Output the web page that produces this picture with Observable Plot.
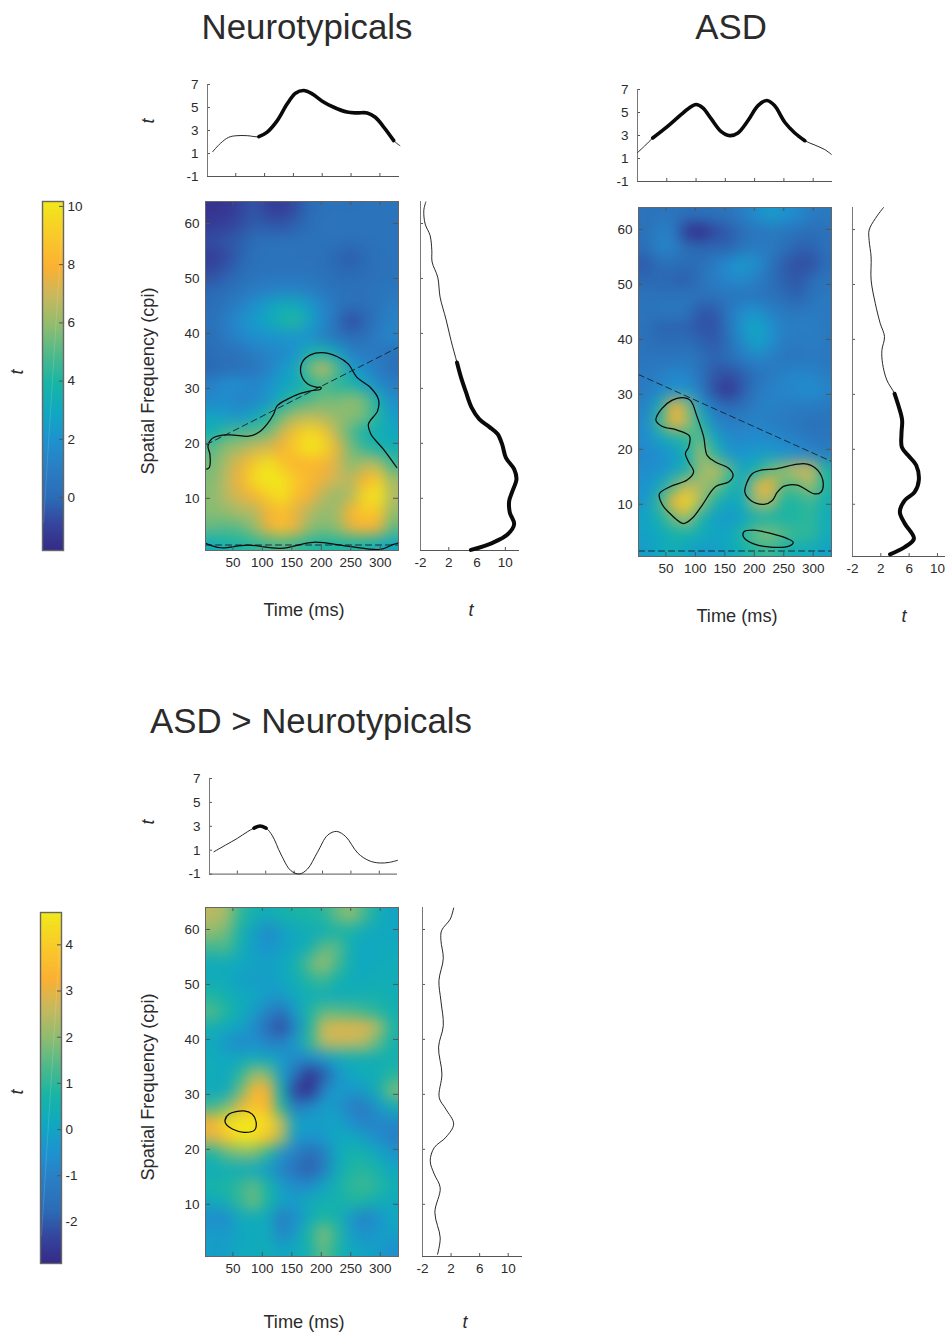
<!DOCTYPE html>
<html><head><meta charset="utf-8">
<script src="https://cdn.jsdelivr.net/npm/d3@7"></script>
<script src="https://cdn.jsdelivr.net/npm/@observablehq/plot@0.6"></script>
<style>
body{margin:0;background:#fff}
#root{position:relative;width:945px;height:1332px;overflow:hidden;font-family:"Liberation Sans",Arial,sans-serif;color:#2b2b2b}
#root svg{position:absolute;overflow:visible;background:transparent;max-width:none}
.lab{position:absolute;white-space:nowrap;transform:translate(-50%,-50%)}
</style></head><body><div id="root"></div>
<script>
// Colormap stops (parula as printed)
const parula=["#352a87","#35479f","#2b6cb6","#2a7fc4","#1e92d0","#10a9c0","#18b5a5","#4eb98b","#90bc6f","#c9b85d","#fbb033","#f9c92a","#f1e91b"];
const parulaPos=[0,.08,.15,.24,.315,.40,.48,.56,.645,.73,.81,.9,1];
const scaleA=[-1.82,10.17], scaleB=[-2.9,4.7];
const tickA=[0,2,4,6,8,10], tickB=[-2,-1,0,1,2,3,4];
const timeTicks=[50,100,150,200,250,300], freqTicks=[10,20,30,40,50,60];
const topT=[-1,1,3,5,7], sideT=[-2,2,6,10];

// t maps, 14 columns (time) x 22 rows (top row = highest frequency)
const ntGrid=[
[-1.5,-1.4,-1,-.5,-1.1,-1.2,-.7,0,.3,.4,.3,.4,.4,.4],
[-1.2,-1,-.7,-.3,-.4,-.5,-.2,.2,.4,.5,.5,.5,.4,.4],
[-.7,-.5,-.3,.2,.4,.4,.4,.4,.4,.3,.2,.3,.4,.5],
[-1.2,-.8,-.2,.3,.4,.4,.4,.3,.2,-.1,-.4,0,.3,.4],
[-.7,-.3,.1,.4,.5,.5,.5,.5,.4,0,0,.1,.3,.4],
[-.1,.2,.5,.9,1.1,1.2,1.2,1,.6,.4,.4,.4,.5,.6],
[.2,.6,1.2,1.8,2.6,3.2,3.2,2.4,1.4,.6,.2,.2,.5,1],
[.3,1,1.8,2.4,3,3.8,4.2,2.8,1.5,.3,-.8,-.2,.7,1.2],
[.2,.9,1.4,1.9,2,2.2,2.2,1.9,1.2,.4,.1,.3,1,1.4],
[.1,.3,.4,1,1.3,1.5,2,3.6,3.8,2.8,1.2,.8,.8,.4],
[-.1,.2,.3,.5,1.2,2.2,3,5.5,7,5,2.5,1.7,.9,.2],
[1.2,1.8,1.8,1.4,2,2.6,3.2,4,4.8,4.2,4,2.8,1.6,1],
[1.5,1.7,1.2,1.4,2.2,3.5,4.5,5,5.5,5.5,6,5.5,3.5,1.7],
[2.8,2.4,2.2,3,4,5.5,6.5,6.8,6.5,6,5.8,5.5,4,2.4],
[3.5,4.5,4.8,5,5.5,7,8.6,9.6,8.8,6.5,5,3.5,3.4,3],
[5,6,6.3,7,7.2,7.8,9.2,10.2,9.7,7.5,5.5,4.5,3.6,3.4],
[5.5,6.5,7.5,8.9,10,8.8,8,8.3,8,7.2,5.8,6.5,6.5,4.5],
[5.7,6.8,7.8,9.8,10.2,10,9,8.2,7.6,7,6.6,8,9,6.2],
[5.8,6.7,7.3,8,9.2,10,8.5,7.8,6.6,6,6.5,9.5,10.2,6.5],
[5.8,6,6.5,6.5,7.8,8.5,7.5,6.6,6,6.2,8,9,8.8,6],
[5.2,5,5.2,6,7.6,8.6,7.6,6,5.6,6,7.5,8,7.6,5.2],
[3.3,3.8,4,4.3,4.6,4.9,4.6,4.2,4,4,4,3.8,3.4,3]];
const asdGrid=[
[.4,.5,.5,.2,.3,.4,.5,1,1.7,2.4,2,1.6,.9,.7],
[.3,1.1,.9,-1.4,-2,-.8,-.4,.2,.5,.7,.6,.4,.1,.3],
[.2,1.3,1.2,.1,-.1,-.1,-.2,.5,.9,.8,.4,-.2,-.2,.3],
[-.4,.2,.2,.1,.2,.9,1.8,2.3,1.8,.6,-.3,-.7,-.7,.1],
[-.1,-.1,-.2,-.3,.4,1,1.5,1.6,1.1,.3,-.3,-.5,.1,.5],
[.4,.4,.4,.5,.4,.5,.5,.5,.5,.3,.1,-.3,.4,.7],
[.5,.6,.8,.5,-.5,-.4,.6,1.7,2,1.2,.7,.7,.8,.8],
[.3,-.2,-.2,-.2,-.6,-.6,.6,2.2,3,2,1.1,1,1,.7],
[.4,.1,.1,.2,-.2,-.4,.2,1.6,2.7,2,.9,.8,1,.8],
[.5,.6,.5,.7,.3,-.2,.2,.8,1.4,1,.6,.6,.8,.6],
[.8,1,1.5,1.3,.3,-.5,-.7,-.3,.3,.8,1.2,1.5,1.3,1],
[.9,1.4,2,2.1,.9,-.7,-1.5,-.4,.7,1.2,1.4,1.6,1.9,1.4],
[1.2,3.4,8,6,2.2,.7,.1,.4,1,1.2,1,.9,.9,.7],
[1.6,4.6,7.8,6.4,4,1.5,1,1.1,1.3,1,.8,.6,.3,.4],
[1.7,2.7,3.6,4.3,5.2,3,1.6,1.6,1.7,1.6,1.4,1.1,.6,.6],
[1.5,1.8,2.3,3.5,6.4,4.2,2.2,2.1,2.4,2.4,2,1.7,1.4,1],
[1.7,1.9,2.6,3.7,6,6.8,5.2,2.8,3.8,5.2,6,7,7,3.7],
[2,3,5,7,6.2,5.8,4.2,3.2,7,8,5,5.2,6.4,4],
[2.2,4.5,8,9.5,6.4,4,2.8,3.2,6.4,6.6,4,4.1,4.6,3.4],
[2.8,3.6,5.4,6.6,3.8,2.6,2.2,2.8,3.6,3.8,3.8,4.1,4.3,3.2],
[2.6,3,3.7,3.8,3.3,2.8,3,4,5.5,5.7,5,4.4,4.4,3.2],
[2.4,3,3.4,2.8,2.4,2.5,2.9,3.6,4.2,4.6,3.7,3.3,3.2,2.6]];
const diffGrid=[
[2.5,2.2,1,.5,.3,.6,.7,.8,.9,1.6,2,1.2,.4,0],
[2,1.7,.6,-.1,-.8,-.2,.2,.3,.4,.7,.6,.3,.1,.1],
[1.2,1.3,.4,-.1,-.5,-.1,.2,.5,1.5,1.5,.4,.1,.2,.2],
[.2,.3,.1,0,-.1,.1,.5,1.5,2.2,1.3,.4,.1,.2,.3],
[.3,.2,-.1,-.2,-.2,.1,.4,.9,1.2,.6,.3,.2,.4,.3],
[.8,.5,.2,.1,-.2,-.3,.2,.4,.4,.3,.4,.5,.5,.4],
[1.4,.8,.3,-.2,-1,-1.4,-.2,.8,1.5,1.5,1.4,1.2,.9,.5],
[.5,.2,0,-.7,-1.7,-2.2,-.8,.8,2.7,2.9,2.9,2.9,2.3,.8],
[.2,-.4,-.8,-.5,-1,-1,-.2,1,2.4,2.6,2.5,2.4,1.5,.6],
[.3,.1,.2,.3,.1,-.2,-.8,-.6,-.3,.2,.4,.4,.4,.5],
[.3,.1,1,2.2,1.9,-.2,-1.5,-2.7,-2,-.6,.1,.3,.4,.9],
[.2,.3,1.7,3.4,3.1,.3,-2.4,-2.8,-1,-.2,-.4,-.2,.5,1.8],
[1.2,1.8,3,3.8,3.4,.8,-1.2,-.8,-.2,-.3,-1.1,-1.2,-.3,.4],
[3.3,4.4,4.7,4.7,4.3,2.6,0,-.1,-.1,0,-.5,-1,-.9,-.8],
[2.8,3.8,4.5,4.4,3.7,2.2,-.3,-.5,-.3,.1,.2,-.1,-.6,-1.1],
[.8,1.5,1.8,1.8,.9,-.5,-1.1,-1.7,-1.2,.1,.6,.5,.1,-.4],
[.3,.4,.3,.2,-.2,-1,-1.5,-1.9,-1.2,.2,.8,.9,.6,.1],
[.7,.8,1.1,1.5,.7,-.2,-.7,-.7,0,.5,1,1.2,.9,.4],
[.2,.5,1.1,1.7,.7,0,-.2,.3,.5,.5,.8,.7,.4,.2],
[-.7,-.6,.2,.3,.1,-1.2,-.6,.3,.8,.6,-.3,-1,-.5,.1],
[-.2,-.3,.1,.2,.2,-.9,-.2,.8,1.9,1,-.1,-.6,-.2,-.1],
[-.2,-.1,.2,.2,.3,0,.2,.6,1.6,.8,.1,0,-.2,-.6]];

// top curves [time, t]
const ntTop=[[10,1.16],[23.4,1.88],[37.8,2.41],[52,2.55],[70,2.55],[90,2.47],[104,2.84],[122,3.86],[139,5.3],[153.6,6.24],[168,6.48],[182.5,6.19],[200,5.55],[220,5.02],[243,4.6],[260,4.53],[278,4.53],[292,4.15],[307,3.28],[324,2.12],[334.7,1.68]];
const asdTop=[[.3,1.53],[11.7,2.06],[26,2.78],[46,3.57],[66,4.44],[86,5.31],[100,5.69],[111.6,5.4],[126,4.44],[143,3.34],[157.3,2.99],[171.6,3.22],[188.7,4.3],[205.8,5.6],[221,6.04],[234,5.6],[251.5,4.15],[268.6,3.22],[285.7,2.55],[302.8,2.17],[320,1.77],[331,1.36]];
const diffTop=[[8.8,.87],[29.4,1.43],[50,1.99],[67.6,2.54],[79.4,2.85],[90,3.02],[100.6,2.85],[111.8,2.2],[126.5,.68],[144,-.7],[159,-.99],[173.5,-.58],[191,.82],[209,2.26],[225,2.57],[241,2.13],[262,.76],[282,.12],[300,-.07],[317.6,-.02],[332,.15]];
// side curves [t, frequency]
const ntSide=[[-1.25,63.9],[-1.53,62.4],[-1.34,59.9],[-.64,57.8],[-.4,55.1],[-.36,53],[.44,50.2],[.77,46.6],[1.6,42.6],[2.32,38.7],[3.16,34.7],[3.73,32],[4.43,29.3],[5.23,26.5],[6.31,24.4],[7.72,23],[8.9,21.7],[9.55,19.8],[10.07,17.4],[11.24,15.3],[11.57,13.5],[11,11.3],[10.54,9.5],[10.63,7.4],[11.24,5.3],[10.3,3.4],[8.2,1.9],[5.13,.6]];
const asdSide=[[2.38,64],[1.23,62],[.35,59.9],[.35,58],[.63,55],[.63,50.8],[1.23,46.5],[1.92,42.9],[2.52,40.5],[2.15,38],[2.25,35.6],[2.85,32.6],[3.95,30.1],[4.55,27.7],[5.01,25.3],[4.92,22.9],[4.97,20.4],[5.85,18.9],[7,17.1],[7.37,14.4],[6.77,12.2],[5.38,10.7],[4.69,8.6],[5.38,6.5],[6.68,3.75],[5.38,2.2],[3.3,.9]];
const diffSide=[[2.36,63.9],[1.89,61.9],[.67,59.8],[.58,58],[.91,54.7],[.3,50.7],[.58,47],[.91,42.5],[.25,38.6],[.72,33.7],[.34,29.4],[1.28,27.3],[2.36,24.6],[1.28,22.2],[-.36,20.3],[-.92,17.9],[-.36,15.5],[.48,13],[-.27,8.5],[.48,3.9],[.11,.9]];

// significance contours [time, frequency]
const ntContourA=[[5.4,15.3],[10,15.6],[11,18],[7.7,19.5],[15,20.9],[32,21.5],[51.7,21.5],[77,21.3],[94,22],[108,23.5],[119,25.3],[125,26.8],[142,28],[164.6,29.1],[184,29.6],[198,29.8],[199.5,30.2],[193,30.2],[176,30.9],[165.7,32.6],[167.4,34.7],[181.5,36.1],[201,36.5],[226.6,35.8],[246,34.4],[260.5,32],[283,30.2],[297,28],[295.5,25.9],[280,23.5],[284,21.7],[305.6,18.9],[328,15.6]];
const ntContourB=[[3.7,1.8],[29,1],[74,1.5],[131,.9],[187,2],[243.6,1.3],[300,.7],[322.6,1.6],[331,1.9]];
const ntDashA=[[5.4,19.8],[331,37.5]], ntDashB=[[3.5,1.5],[331,1.5]];
const asdContourA=[[77.3,29.4],[60,28.9],[43,27.4],[33,25.3],[43,24.2],[69,23.5],[90,22.4],[88.6,20.4],[83,19.2],[88.6,17.7],[97,15.9],[86,14.4],[57,13.2],[39,11.9],[43,10.1],[60,8],[80,6.5],[94,7.4],[111.4,9.8],[134,13.2],[157,14.1],[164,15.3],[157,16.5],[134,17.7],[120,18.9],[114,22.3],[103,25.9],[91.5,28.9]];
const asdContourB=[[188,14.1],[184,12.2],[194,10.7],[216.5,10],[230.7,10.7],[239,12.2],[250.6,13.3],[273,13.5],[302,11.9],[313,12.2],[317,13.8],[307.4,16.2],[290,17.3],[273,17.3],[239,16.5],[211,16.2],[197,15.6]];
const asdContourC=[[182.4,5],[199.4,5.3],[227.8,4.7],[256,3.75],[266,3.1],[259,2.4],[228,2.2],[199,2.8],[182,4]];
const asdDashA=[[3.5,33.6],[331,17.8]], asdDashB=[[3.5,1.5],[331,1.5]];
const diffContour=[[36.5,25.2],[43,26.4],[68.6,27],[82.7,26.4],[89.5,24.9],[86.7,23.5],[68.6,23.1],[49,23.7],[39,24.5]];

const root=document.getElementById("root");
const stops=t=>{t=Math.max(0,Math.min(1,t));let i=d3.bisectRight(parulaPos,t)-1;i=Math.max(0,Math.min(parula.length-2,i));
  return d3.interpolateRgb(parula[i],parula[i+1])((t-parulaPos[i])/(parulaPos[i+1]-parulaPos[i]));};
const font={fontSize:13.5,fontFamily:'"Liberation Sans",Arial,sans-serif',tickFormat:d=>String(d)};
const ink="#2b2b2b", tickInk="#555";

function place(opts,left,top,w,h){
  const m=40;
  const el=Plot.plot({width:w+2*m,height:h+2*m,marginLeft:m,marginRight:m,marginTop:m,marginBottom:m,
    style:{background:"transparent",overflow:"visible"},...opts});
  el.style.left=(left-m)+"px";el.style.top=(top-m)+"px";
  root.appendChild(el);
}
function label(text,x,y,{size=18,rotate=false,italic=false}={}){
  const d=document.createElement("div");d.className="lab";d.textContent=text;
  d.style.left=x+"px";d.style.top=y+"px";d.style.fontSize=size+"px";
  if(italic)d.style.fontStyle="italic";
  if(rotate)d.style.transform="translate(-50%,-50%) rotate(-90deg)";
  root.appendChild(d);
}
const xDom=[3.5,331], yDom=[.5,64], W=193, H=349;
const pad=2;
function padded(grid){
  const rows=grid.map(r=>[...Array(pad).fill(r[0]),...r,...Array(pad).fill(r[r.length-1])]);
  return [...Array(pad).fill(rows[0]),...rows,...Array(pad).fill(rows[rows.length-1])];
}
function heatmap(grid,scale,left,top,contours,dashes){
  const cols=grid[0].length, rows=grid.length, p=padded(grid);
  const dx=(xDom[1]-xDom[0])/cols*pad, dy=(yDom[1]-yDom[0])/rows*pad;
  const marks=[
    Plot.raster(p.flat(),{width:cols+2*pad,height:rows+2*pad,x1:xDom[0]-dx,x2:xDom[1]+dx,y1:yDom[1]+dy,y2:yDom[0]-dy,fill:d=>d,imageRendering:"auto",imageFilter:"blur(5.5px)",clip:"frame"}),
    ...dashes.map(d=>Plot.line(d,{stroke:"#1a2a3a",strokeWidth:1,strokeDasharray:"6 4"})),
    ...contours.map(([c,curve])=>Plot.line(c,{stroke:"#0a0a0a",strokeWidth:1.25,curve})),
    Plot.ruleX(timeTicks,{stroke:tickInk,insetTop:H-4}),
    Plot.ruleX(timeTicks,{stroke:tickInk,insetBottom:H-4}),
    Plot.ruleY(freqTicks,{stroke:tickInk,insetLeft:W-5}),
    Plot.ruleY(freqTicks,{stroke:tickInk,insetRight:W-5}),
    Plot.frame({stroke:"#666",strokeWidth:1}),
    Plot.axisX({ticks:timeTicks,tickSize:0,tickPadding:7,label:null,...font,color:ink}),
    Plot.axisY({ticks:freqTicks,tickSize:0,tickPadding:6,label:null,...font,color:ink})
  ];
  place({x:{domain:xDom},y:{domain:yDom},color:{type:"linear",domain:scale,interpolate:stops},marks},left,top,W,H);
}
function topCurve(curve,thick,left,top,w,h,xd){
  place({x:{domain:xd,axis:null},y:{domain:[-1,7],axis:null},marks:[
    Plot.ruleX(timeTicks,{stroke:tickInk,insetTop:h-3}),
    Plot.ruleY(topT,{stroke:tickInk,insetRight:w-3}),
    Plot.ruleY([-1],{stroke:"#555"}),
    Plot.ruleX([xd[0]],{stroke:"#777"}),
    Plot.line(curve,{stroke:"#111",strokeWidth:.9,curve:"catmull-rom"}),
    Plot.line(curve.filter(d=>d[0]>=thick[0]&&d[0]<=thick[1]),{stroke:"#0a0a0a",strokeWidth:3.6,curve:"catmull-rom"}),
    Plot.axisY({ticks:topT,tickSize:0,tickPadding:9,label:null,...font,color:ink})
  ]},left,top,w,h);
}
function sideCurve(curve,thick,left,top,w,h,xmax){
  const marks=[
    Plot.ruleY(freqTicks,{stroke:tickInk,insetRight:w-3}),
    Plot.ruleX(sideT,{stroke:tickInk,insetTop:h-3}),
    Plot.ruleY([yDom[0]],{stroke:"#555"}),
    Plot.ruleX([-2],{stroke:"#777"}),
    Plot.line(curve,{stroke:"#111",strokeWidth:.9,curve:"catmull-rom"})
  ];
  if(thick)marks.push(Plot.line(curve.filter(d=>d[1]<=thick),{stroke:"#0a0a0a",strokeWidth:4,curve:"catmull-rom"}));
  marks.push(Plot.axisX({ticks:sideT,tickSize:0,tickPadding:7,label:null,...font,color:ink}));
  place({x:{domain:[-2,xmax],axis:null},y:{domain:yDom,axis:null},marks},left,top,w,h);
}
function colorbar(scale,ticks,left,top,w,h){
  const n=240, vals=d3.range(n).map(i=>scale[1]-(i+.5)/n*(scale[1]-scale[0]));
  place({x:{domain:[0,1],axis:null},y:{domain:scale,axis:null},color:{type:"linear",domain:scale,interpolate:stops},marks:[
    Plot.raster(vals,{width:1,height:n,x1:0,x2:1,y1:scale[1],y2:scale[0],fill:d=>d,imageRendering:"auto"}),
    Plot.line([[.05,scale[0]+.08*(scale[1]-scale[0])],[.92,scale[0]+.92*(scale[1]-scale[0])]],{stroke:"#fff",strokeOpacity:.14,strokeWidth:1}),
    Plot.ruleY(ticks,{stroke:"#555",insetLeft:w-4}),
    Plot.frame({stroke:"#666",strokeWidth:1.4}),
    Plot.axisY({anchor:"right",ticks,tickSize:0,tickPadding:4,label:null,...font,color:ink})
  ]},left,top,w,h);
}

// Neurotypicals
label("Neurotypicals",307,27,{size:34.8});
topCurve(ntTop,[90,325],207,84,192,92,[1,334]);
heatmap(ntGrid,scaleA,205,201,[[ntContourA,"catmull-rom"],[ntContourB,"catmull-rom"]],[ntDashA,ntDashB]);
sideCurve(ntSide,34.7,419.5,201,99,349,12);
colorbar(scaleA,tickA,42,201,21,349);
label("t",148,121,{italic:true,rotate:true,size:18});
label("t",17,372,{italic:true,rotate:true,size:18});
label("Spatial Frequency (cpi)",148,381,{rotate:true,size:18.2});
label("Time (ms)",304,610,{size:18.2});
label("t",471,610,{italic:true,size:18});

// ASD
label("ASD",731,27,{size:34.8});
topCurve(asdTop,[26,286],636.7,89,195,92,[0,333]);
heatmap(asdGrid,scaleA,638,207,[[asdContourA,"catmull-rom-closed"],[asdContourB,"catmull-rom-closed"],[asdContourC,"catmull-rom-closed"]],[asdDashA,asdDashB]);
sideCurve(asdSide,30.1,852,207,99.1,349,12);
label("Time (ms)",737,616,{size:18.2});
label("t",904,616,{italic:true,size:18});

// ASD > Neurotypicals
label("ASD > Neurotypicals",311,721,{size:34.8});
topCurve(diffTop,[79,101],209,777.7,188,95.6,[1,332]);
heatmap(diffGrid,scaleB,205,907,[[diffContour,"catmull-rom-closed"]],[]);
sideCurve(diffSide,null,421.7,907,100,349,12);
colorbar(scaleB,tickB,40,912,21,351);
label("t",148,822,{italic:true,rotate:true,size:18});
label("t",17,1092,{italic:true,rotate:true,size:18});
label("Spatial Frequency (cpi)",148,1087,{rotate:true,size:18.2});
label("Time (ms)",304,1322,{size:18.2});
label("t",465,1322,{italic:true,size:18});
</script></body></html>
